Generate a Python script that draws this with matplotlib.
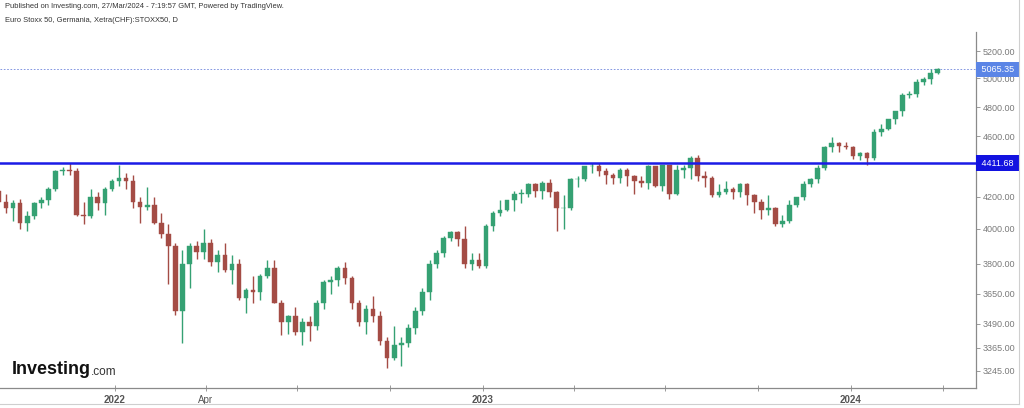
import matplotlib
matplotlib.use("Agg")
import matplotlib.pyplot as plt
import matplotlib.transforms as mtransforms
from matplotlib.lines import Line2D
import numpy as np
import pandas as pd

# weekly candles, Euro Stoxx 50
weeks = pd.date_range("2021-09-06", "2024-03-25", freq="W-MON")

opens = [
    # 2021
    4240, 4170, 4130, 4160, 4040, 4080, 4160, 4180, 4250, 4360, 4370, 4360, 4090, 4080, 4200, 4160, 4250,
    # 2022
    4300, 4320, 4300, 4170, 4140, 4150, 4040, 3970, 3900, 3560, 3800, 3900, 3870,
    3920, 3810, 3850, 3770, 3800, 3630, 3670, 3660, 3740, 3780, 3600, 3500, 3530,
    3450, 3500, 3480, 3600, 3710, 3720, 3780, 3730, 3600, 3500, 3570, 3530, 3400,
    3310, 3380, 3390, 3470, 3560, 3660, 3800, 3860, 3950, 3980, 3940, 3800, 3820,
    # 2023
    3790, 4020, 4100, 4120, 4180, 4220, 4220, 4280, 4240, 4290, 4230, 4130, 4130,
    4310, 4310, 4390, 4390, 4360, 4340, 4320, 4370, 4330, 4300, 4290, 4390, 4270,
    4400, 4220, 4370, 4380, 4450, 4330, 4320, 4210, 4230, 4250, 4230, 4280, 4210,
    4170, 4120, 4130, 4030, 4050, 4150, 4200, 4280, 4310, 4380, 4520, 4550, 4530,
    # 2024
    4520, 4460, 4480, 4450, 4630, 4650, 4720, 4770, 4880, 4890, 4970, 4990, 5040,
]
highs = [
    4250, 4220, 4180, 4190, 4110, 4170, 4200, 4260, 4370, 4385, 4415, 4380, 4170, 4250, 4230, 4260, 4310,
    4400, 4350, 4340, 4200, 4260, 4200, 4100, 4030, 3920, 3880, 3920, 3930, 4000,
    3940, 3880, 3920, 3850, 3830, 3680, 3740, 3750, 3820, 3820, 3620, 3540, 3580,
    3520, 3530, 3620, 3720, 3740, 3790, 3810, 3740, 3620, 3590, 3640, 3560, 3420,
    3480, 3420, 3490, 3580, 3680, 3820, 3880, 3960, 3990, 3990, 4020, 3860, 3860,
    4030, 4110, 4180, 4180, 4240, 4250, 4290, 4290, 4300, 4310, 4240, 4210, 4320,
    4330, 4390, 4410, 4410, 4380, 4350, 4380, 4380, 4340, 4330, 4400, 4390, 4400,
    4400, 4400, 4400, 4460, 4470, 4360, 4330, 4280, 4300, 4260, 4290, 4290, 4220,
    4190, 4210, 4140, 4090, 4180, 4200, 4300, 4320, 4400, 4530, 4590, 4560, 4560,
    4530, 4490, 4490, 4650, 4680, 4720, 4770, 4900, 4910, 4990, 5010, 5070, 5075,
]
lows = [
    4140, 4100, 4050, 4000, 3990, 4060, 4130, 4150, 4240, 4340, 4340, 4080, 4030, 4070, 4120, 4090, 4240,
    4270, 4250, 4130, 4040, 4120, 4030, 3950, 3700, 3540, 3390, 3680, 3830, 3830,
    3790, 3760, 3760, 3700, 3620, 3550, 3600, 3620, 3730, 3600, 3430, 3440, 3430,
    3380, 3400, 3460, 3570, 3650, 3690, 3700, 3570, 3480, 3440, 3500, 3380, 3260,
    3300, 3270, 3370, 3440, 3540, 3620, 3780, 3840, 3930, 3900, 3780, 3770, 3780,
    3780, 3990, 4080, 4110, 4110, 4160, 4200, 4200, 4190, 4200, 3990, 4000, 4120,
    4260, 4300, 4350, 4330, 4280, 4280, 4290, 4270, 4220, 4260, 4250, 4260, 4240,
    4190, 4210, 4320, 4310, 4300, 4260, 4200, 4200, 4220, 4190, 4200, 4150, 4100,
    4060, 4090, 4020, 4010, 4040, 4140, 4180, 4260, 4290, 4370, 4490, 4490, 4510,
    4440, 4430, 4400, 4430, 4600, 4640, 4680, 4740, 4860, 4870, 4950, 4960, 5030,
]
closes = [
    4170, 4130, 4160, 4040, 4080, 4160, 4180, 4250, 4360, 4370, 4360, 4090, 4080, 4200, 4160, 4250, 4300,
    4320, 4300, 4170, 4140, 4150, 4040, 3970, 3900, 3560, 3800, 3900, 3870, 3920,
    3810, 3850, 3770, 3800, 3630, 3670, 3660, 3740, 3780, 3600, 3500, 3530, 3450,
    3500, 3480, 3600, 3710, 3720, 3780, 3730, 3600, 3500, 3570, 3530, 3400, 3310,
    3380, 3390, 3470, 3560, 3660, 3800, 3860, 3950, 3980, 3940, 3800, 3820, 3790,
    4020, 4100, 4120, 4180, 4220, 4220, 4280, 4240, 4290, 4230, 4130, 4130, 4310,
    4310, 4390, 4390, 4360, 4340, 4320, 4370, 4330, 4300, 4290, 4390, 4270, 4400,
    4220, 4370, 4380, 4450, 4330, 4320, 4210, 4230, 4250, 4230, 4280, 4210, 4170,
    4120, 4130, 4030, 4050, 4150, 4200, 4280, 4310, 4380, 4520, 4550, 4530, 4520,
    4460, 4480, 4450, 4630, 4650, 4720, 4770, 4880, 4890, 4970, 4990, 5040, 5065.35,
]

resistance = 4411.68
last_price = 5065.35

ytick_values = [5200, 5000, 4800, 4600, 4200, 4000, 3800, 3650, 3490, 3365, 3245]
xtick_dates = pd.date_range("2022-01-01", "2024-04-01", freq="QS")
xtick_names = {"2022-01-01": "2022", "2022-04-01": "Apr", "2023-01-01": "2023", "2024-01-01": "2024"}

# the price axis of the picture is not linear: calibrate it piecewise
knot_values = np.array([3125, 3245, 3365, 3490, 3650, 3800, 4000, 4200, 4411.68, 4600, 4800, 5000, 5200, 5400])
knot_pixels = np.array([394, 371, 348, 324, 294, 264, 229, 197, 163, 136, 107, 78, 51, 24])


def forward(v):
    return -np.interp(v, knot_values, knot_pixels)


def inverse(u):
    return np.interp(u, -knot_pixels, knot_values)


up_col = "#35a173"
down_col = "#a44c45"

fig = plt.figure(figsize=(10.24, 4.08), dpi=100)
ax = fig.add_axes([0.0, (408 - 388) / 408, 976 / 1024, (388 - 32) / 408])
ax.set_yscale("function", functions=(forward, inverse))

o = np.array(opens, dtype=float)
h = np.array(highs, dtype=float)
l = np.array(lows, dtype=float)
c = np.array(closes, dtype=float)
x = weeks + pd.Timedelta(days=2)
cols = np.where(c >= o, up_col, down_col)

ax.vlines(x, l, h, colors=cols, linewidth=1.0, zorder=2)
body_lo = np.minimum(o, c)
body_h = np.maximum(np.abs(c - o), 4)
ax.bar(x, body_h, bottom=body_lo, width=4.6, color=cols, edgecolor=cols, linewidth=0.3, zorder=3)

ax.axhline(resistance, color="#1b1be6", linewidth=1.8, zorder=4)
ax.axhline(last_price, color="#6f86dc", linewidth=0.6, linestyle=(0, (2, 2)), zorder=1)

ax.set_xlim(pd.Timestamp("2021-09-09"), pd.Timestamp("2024-05-04"))
ax.set_ylim(3156, 5341)

ax.spines["top"].set_visible(False)
ax.spines["left"].set_visible(False)
for s in ("right", "bottom"):
    ax.spines[s].set_color("#8a8a8a")
    ax.spines[s].set_linewidth(0.9)

ax.yaxis.tick_right()
ax.set_yticks(ytick_values)
ax.set_yticks([], minor=True)
ax.set_yticklabels(["%.2f" % v for v in ytick_values])
ax.tick_params(axis="y", which="major", length=3, width=0.6, color="#8a8a8a",
               labelsize=6.5, labelcolor="#7a7a7a", pad=2)

ax.set_xticks(xtick_dates)
ax.set_xticklabels([xtick_names.get(d.strftime("%Y-%m-%d"), "") for d in xtick_dates])
ax.tick_params(axis="x", length=4, width=0.6, direction="inout", color="#8a8a8a",
               labelsize=7, labelcolor="#555555", pad=3)
for t in ax.get_xticklabels():
    if t.get_text().isdigit():
        t.set_fontweight("bold")

for tl in ax.get_yticklabels() + ax.get_xticklabels():
    tl.set_fontfamily("Liberation Sans")

# price boxes on the axis
trans = mtransforms.blended_transform_factory(ax.transAxes, ax.transData)
ax.text(1.003, resistance, " 4411.68 ", transform=trans, ha="left", va="center",
        fontsize=6.5, color="white", family="Liberation Sans", zorder=6,
        bbox=dict(boxstyle="square,pad=0.35", fc="#1212e0", ec="none"))
ax.text(1.003, last_price, " 5065.35 ", transform=trans, ha="left", va="center",
        fontsize=6.5, color="white", family="Liberation Sans", zorder=6,
        bbox=dict(boxstyle="square,pad=0.35", fc="#5b85e6", ec="none"))

# header
fig.text(5 / 1024, 1 - 7 / 408, "Published on Investing.com, 27/Mar/2024 - 7:19:57 GMT, Powered by TradingView.",
         fontsize=5.4, color="#333333", family="Liberation Sans", va="center")
fig.text(5 / 1024, 1 - 21 / 408, "Euro Stoxx 50, Germania, Xetra(CHF):STOXX50, D",
         fontsize=5.4, color="#333333", family="Liberation Sans", va="center")

# logo
fig.text(12 / 1024, 1 - 370 / 408, "Investing", fontsize=13, fontweight="bold",
         color="#111111", family="Liberation Sans", va="center")
fig.text(91 / 1024, 1 - 372 / 408, ".com", fontsize=8.5, color="#333333",
         family="Liberation Sans", va="center")

# outer frame
fig.add_artist(Line2D([0, 1019 / 1024], [1 - 404 / 408] * 2, transform=fig.transFigure, color="#cfcfcf", lw=0.8))
fig.add_artist(Line2D([1019 / 1024] * 2, [1 - 404 / 408, 1], transform=fig.transFigure, color="#cfcfcf", lw=0.8))

fig.savefig("out.png", dpi=100)
